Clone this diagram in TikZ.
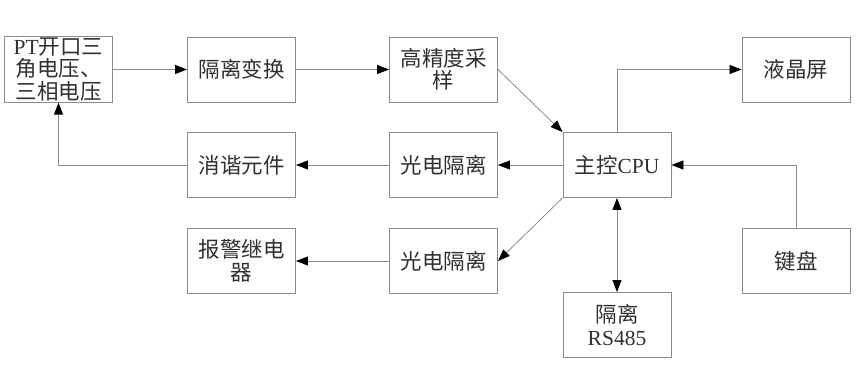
\documentclass[tikz,border=0pt]{standalone}
\usepackage{fontspec}
\setmainfont{Liberation Serif}
\newfontfamily\cjk{Noto Sans CJK SC}
\usetikzlibrary{arrows.meta}
\definecolor{linegray}{HTML}{8C8C8C}
\definecolor{textgray}{HTML}{303030}
\begin{document}
\begin{tikzpicture}[x=1pt,y=-1pt,
  box/.style={draw=linegray, line width=0.9pt, minimum width=108pt, minimum height=65pt,
    inner sep=1pt, align=center, text=textgray, font=\fontsize{21.5}{22.5}\selectfont},
  conn/.style={draw=linegray, line width=0.8pt,
    -{Triangle[length=12pt,width=9pt,color=black]}},
  dconn/.style={draw=linegray, line width=0.8pt,
    {Triangle[length=12pt,width=9pt,color=black]}-{Triangle[length=12pt,width=9pt,color=black]}}]
\useasboundingbox (0,0) rectangle (864,383);
\node[box] (pt) at (58.5,69.5) {PT{\cjk 开口三}\\{\cjk 角电压、}\\{\cjk 三相电压}};
\node[box] (gl) at (241.5,69.5) {\cjk 隔离变换};
\node[box] (gj) at (443.5,69.5) {\cjk 高精度采\\\cjk 样};
\node[box] (yj) at (796,69.5) {\cjk 液晶屏};
\node[box] (xx) at (241.5,165) {\cjk 消谐元件};
\node[box] (gd1) at (443.5,165) {\cjk 光电隔离};
\node[box] (cpu) at (617,165) {{\cjk 主控}CPU};
\node[box] (bj) at (241.5,261) {\cjk 报警继电\\\cjk 器};
\node[box] (gd2) at (443.5,261) {\cjk 光电隔离};
\node[box] (jp) at (796,261) {\cjk 键盘};
\node[box] (rs) at (617,325) {{\cjk 隔离}\\RS485};
\draw[conn] (pt.east) -- (gl.west);
\draw[conn] (gl.east) -- (gj.west);
\draw[conn] (gj.east) -- (cpu.north west);
\draw[conn] (cpu.north) |- (yj.west);
\draw[conn] (jp.north) |- (cpu.east);
\draw[conn] (cpu.west) -- (gd1.east);
\draw[conn] (gd1.west) -- (xx.east);
\draw[conn] (xx.west) -| (pt.south);
\draw[conn] (cpu.south west) -- (gd2.east);
\draw[conn] (gd2.west) -- (bj.east);
\draw[dconn] (cpu.south) -- (rs.north);
\end{tikzpicture}
\end{document}
